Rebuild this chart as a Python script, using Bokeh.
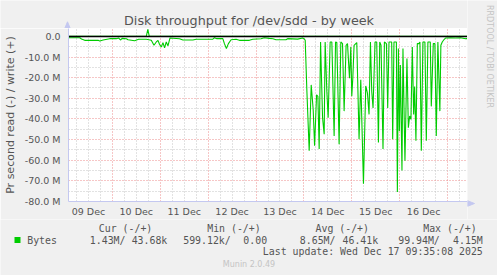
import math
from datetime import datetime, timedelta
from bokeh.plotting import figure
from bokeh.layouts import row, column
from bokeh.models import (Range1d, FixedTicker, DatetimeTickFormatter, Label, BoxAnnotation,
                          PolyAnnotation)
from bokeh.embed import file_html
from bokeh.resources import INLINE

# ---------------- data ----------------
BASE = datetime(2025, 12, 9)          # hours below are counted from 09 Dec 00:00
X_START_H, X_END_H = 2.0, 202.0       # one week view (200 h)

read_hours = [1.0, 7.65, 8.5, 10.15, 16.85, 17.65, 19.35, 22.65, 26.0, 27.15, 28.15, 28.85,
              31.0, 31.85, 35.15, 37.15, 41.0, 43.5, 44.85, 46.0, 46.85, 47.65, 48.5, 49.35,
              50.15, 51.0, 51.85, 52.85, 57.65, 59.35, 64.35, 66.0, 74.35, 75.15, 76.35, 79.35,
              80.15, 81.15, 82.15, 83.5, 86.0, 87.65, 92.65, 94.35, 98.5, 100.15, 102.65, 104.5,
              106.0, 111.0, 111.85, 116.85, 119.35, 120.15, 120.65,
              121.5, 122.65, 123.65, 124.65, 125.35, 126.35, 127.0, 127.65, 128.35, 129.35,
              130.15, 130.65, 131.5, 132.15, 133.15, 134.0, 135.15, 135.85, 136.5, 137.65,
              138.5, 139.35, 140.15, 141.15, 141.85, 142.85, 143.5, 144.0, 144.5, 145.15,
              146.5, 147.65, 148.5, 149.85, 151.0, 151.85, 152.65, 153.35, 154.0, 154.65,
              155.65, 156.5, 157.35, 158.0, 158.65, 159.65, 160.35, 161.35, 162.0, 162.65,
              164.0, 164.5, 165.15, 166.35, 166.85, 167.35, 167.85, 168.35, 169.15, 169.65,
              170.65, 171.65, 172.35, 173.0, 173.65, 174.35, 175.0, 175.5, 176.15, 176.85,
              177.65, 178.15, 178.85, 179.65, 180.65, 181.35, 182.15, 183.35, 183.85, 184.85,
              185.65, 186.35, 187.15, 188.15, 188.65, 189.35, 190.35, 191.0, 193.5, 196.0,
              198.5, 201.0, 202.5]
read_mbps = [0.64, 0.64, 1.28, 1.9, 1.9, 2.2, 1.75, 1.1, 1.1, 0.8, 1.75, 0.96,
             1.1, 1.6, 2.07, 1.4, 1.4, 1.9, 4.3, 2.7, 1.9, 3.9, 5.1, 3.0,
             5.6, 2.7, 4.6, 0.8, 1.1, 1.75, 1.75, 1.4, 1.3, 0.64, 1.1, 1.1,
             3.5, 5.9, 3.5, 1.6, 1.4, 1.9, 1.9, 1.4, 1.1, 0.64, 0.96, 1.1,
             1.6, 1.6, 1.1, 1.3, 0.8, 1.1, 1.9,
             26.7, 55.4, 23.5, 35.4, 53.0, 28.3, 29.0, 54.6, 2.7, 39.4,
             47.4, 2.7, 26.7, 39.4, 2.7, 2.7, 48.2, 2.7, 3.0, 52.2,
             2.7, 3.5, 36.2, 4.3, 3.5, 20.3, 5.1, 29.0, 20.3, 4.3,
             3.0, 49.8, 21.0, 71.4, 24.0, 27.5, 37.8, 2.7, 26.7, 34.7,
             2.7, 2.7, 51.4, 2.7, 4.3, 54.6, 2.7, 3.5, 34.7, 2.7,
             2.7, 49.8, 2.7, 2.7, 75.4, 5.9, 45.8, 13.9, 65.0, 5.9,
             60.2, 10.7, 44.2, 38.6, 40.2, 5.1, 37.8, 24.3, 50.6, 3.5,
             3.5, 2.7, 55.4, 2.7, 2.7, 50.6, 2.7, 2.7, 33.9, 3.5,
             3.5, 48.2, 2.7, 36.2, 4.3, 2.7, 1.4, 0.8, 0.64, 0.8,
             0.64, 1.1, 1.1]

write_hours = [1.0, 41.0, 41.75, 42.5, 202.5]
write_mbps = [0.05, 0.05, 3.4, 0.05, 0.04]

y_tick_values = [0, -10, -20, -30, -40, -50, -60, -70, -80]
y_tick_labels = ["0.0", "-10.0 M", "-20.0 M", "-30.0 M", "-40.0 M",
                 "-50.0 M", "-60.0 M", "-70.0 M", "-80.0 M"]
day_numbers = [9, 10, 11, 12, 13, 14, 15, 16, 17]

title_text = "Disk throughput for /dev/sdd - by week"
y_label_text = "Pr second read (-) / write (+)"
side_text = "RRDTOOL / TOBI OETIKER"
legend_heads = ["Cur (-/+)", "Min (-/+)", "Avg (-/+)", "Max (-/+)"]
legend_name = "Bytes"
legend_read = ["1.43M/", "599.12k/", "8.65M/", "99.94M/"]
legend_write = ["43.68k", "0.00", "46.41k", "4.15M"]
last_update = "Last update: Wed Dec 17 09:35:08 2025"
footer = "Munin 2.0.49"

# ---------------- layout geometry (page pixels) ----------------
W, H = 497, 275
FL, FT, FR, FB = 67, 28, 467, 203     # chart frame box on the page
MAIN_BOTTOM = 219                      # main figure ends below the x tick labels
BG = "#f0f0f0"
txt_col = "#555555"
axis_col = "#c4c8f0"
green = "#00cc00"
mono = "DejaVu Sans Mono"


def t(h):
    return BASE + timedelta(hours=h)


def no_align(f):
    try:
        f.frame_align = False
        return True
    except Exception:
        return False


# ---------------- main chart ----------------
p = figure(width=FR, height=MAIN_BOTTOM - FT, x_axis_type="datetime",
           x_range=Range1d(t(X_START_H), t(X_END_H)), y_range=Range1d(-80, 3.83),
           output_backend="svg", toolbar_location=None,
           min_border_left=FL, min_border_right=0,
           min_border_top=0, min_border_bottom=MAIN_BOTTOM - FB)
no_align(p)
p.title.visible = False
p.background_fill_color = "white"
p.border_fill_color = BG
p.outline_line_color = None

ms = lambda d: (d - datetime(1970, 1, 1)).total_seconds() * 1000.0
noons = [ms(datetime(2025, 12, d, 12)) for d in day_numbers]
midnights = [ms(datetime(2025, 12, d)) for d in day_numbers + [18]]
quarters = [ms(datetime(2025, 12, d, hh)) for d in day_numbers for hh in (6, 12, 18)]

p.xaxis.ticker = FixedTicker(ticks=noons)
fmt = "%d %b"
p.xaxis.formatter = DatetimeTickFormatter(days=fmt, hours=fmt, hourmin=fmt, minutes=fmt,
                                          months=fmt, milliseconds=fmt, seconds=fmt,
                                          minsec=fmt, years=fmt)
p.yaxis.ticker = FixedTicker(ticks=y_tick_values)
p.yaxis.major_label_overrides = dict(zip(y_tick_values, y_tick_labels))
for ax in (p.xaxis[0], p.yaxis[0]):
    ax.axis_line_color = axis_col
    ax.major_tick_line_color = None
    ax.minor_tick_line_color = None
    ax.major_tick_out = 0
    ax.major_tick_in = 0
    ax.major_label_text_font = "DejaVu Sans"
    ax.major_label_text_font_size = "9.5px"
    ax.major_label_text_color = txt_col
p.yaxis.major_label_standoff = 8
p.xaxis.major_label_standoff = 4
p.yaxis.axis_label = y_label_text
p.yaxis.axis_label_text_font = "DejaVu Sans"
p.yaxis.axis_label_text_font_size = "11px"
p.yaxis.axis_label_text_font_style = "normal"
p.yaxis.axis_label_text_color = txt_col
p.yaxis.axis_label_standoff = 5

p.xgrid.ticker = FixedTicker(ticks=midnights, minor_ticks=quarters)
p.ygrid.ticker = FixedTicker(ticks=[-10, -20, -30, -40, -50, -60, -70],
                             minor_ticks=[-5, -15, -25, -35, -45, -55, -65, -75])
for g in (p.xgrid[0], p.ygrid[0]):
    g.grid_line_color = "#ec8c8c"
    g.grid_line_dash = "1 2"
    g.grid_line_width = 1
    g.minor_grid_line_color = "#c4c4c4"
    g.minor_grid_line_dash = "1 2"
    g.minor_grid_line_width = 1

p.line([t(h) for h in read_hours], [-v for v in read_mbps], line_color=green, line_width=1.1)
p.line([t(h) for h in write_hours], write_mbps, line_color=green, line_width=1.1)
p.line([t(X_START_H), t(X_END_H)], [0, 0], line_color="black", line_width=1.5)


# ---------------- text strips (ranges in page pixel coordinates) ----------------
def strip(x0, x1, y0, y1, frame_x0=None):
    fx0 = x0
    f = figure(width=x1 - x0, height=y1 - y0, y_range=Range1d(y1, y0),
               output_backend="svg", toolbar_location=None, min_border=0,
               x_axis_location=None, y_axis_location=None)
    if not no_align(f) and frame_x0 is not None:
        fx0 = frame_x0          # frame gets aligned with the chart frame
    f.x_range = Range1d(fx0, x1)
    f.title.visible = False
    f.background_fill_color = BG
    f.border_fill_color = BG
    f.outline_line_color = None
    f.xgrid.visible = False
    f.ygrid.visible = False
    return f


def lab(f, text, x, y, size, font="DejaVu Sans", color=txt_col, align="left", angle=0.0):
    f.add_layout(Label(x=x, y=y, text=text, text_font=font, text_font_size=size,
                       text_color=color, text_align=align, text_baseline="middle", angle=angle))


top = strip(0, FR, 0, FT, frame_x0=FL)
lab(top, title_text, 248.5, 19.5, "12.8px", align="center")
top.add_layout(PolyAnnotation(xs=[67, 64.2, 69.8], ys=[21.3, 28, 28], xs_units="data", ys_units="data",
                              fill_color=axis_col, fill_alpha=1, line_color=axis_col, line_alpha=1))

right = strip(FR, W, 0, MAIN_BOTTOM)
lab(right, side_text, 488.5, 56, "8px", color="#c4c4c4", align="center", angle=-math.pi / 2)
right.add_layout(PolyAnnotation(xs=[467, 474, 467], ys=[200.2, 203, 205.8], xs_units="data",
                                ys_units="data", fill_color=axis_col, fill_alpha=1,
                                line_color=axis_col, line_alpha=1))

bottom = strip(0, W, MAIN_BOTTOM, H)
for s, x in zip(legend_heads, [98.3, 206.7, 315.0, 422.7]):
    lab(bottom, s, x, 228, "9.9px", font=mono)
lab(bottom, legend_name, 26.7, 239.5, "9.9px", font=mono)
for s, x in zip(legend_read, [89.3, 182.7, 299.3, 397.7]):
    lab(bottom, s, x, 239.5, "9.9px", font=mono)
for s, x in zip(legend_write, [166.8, 266.6, 377.7, 482.3]):
    lab(bottom, s, x, 239.5, "9.9px", font=mono, align="right")
lab(bottom, last_update, 482.3, 251.2, "9.9px", font=mono, align="right")
lab(bottom, footer, 248.5, 264.2, "8px", color="#c4c4c4", align="center")
bottom.add_layout(BoxAnnotation(left=14, right=20, top=236.5, bottom=242.5,
                                fill_color=green, fill_alpha=1, line_color=None))

layout = column(row(column(top, p, spacing=0), right, spacing=0), bottom, spacing=0)
open("out.html", "w").write(file_html(layout, INLINE))
